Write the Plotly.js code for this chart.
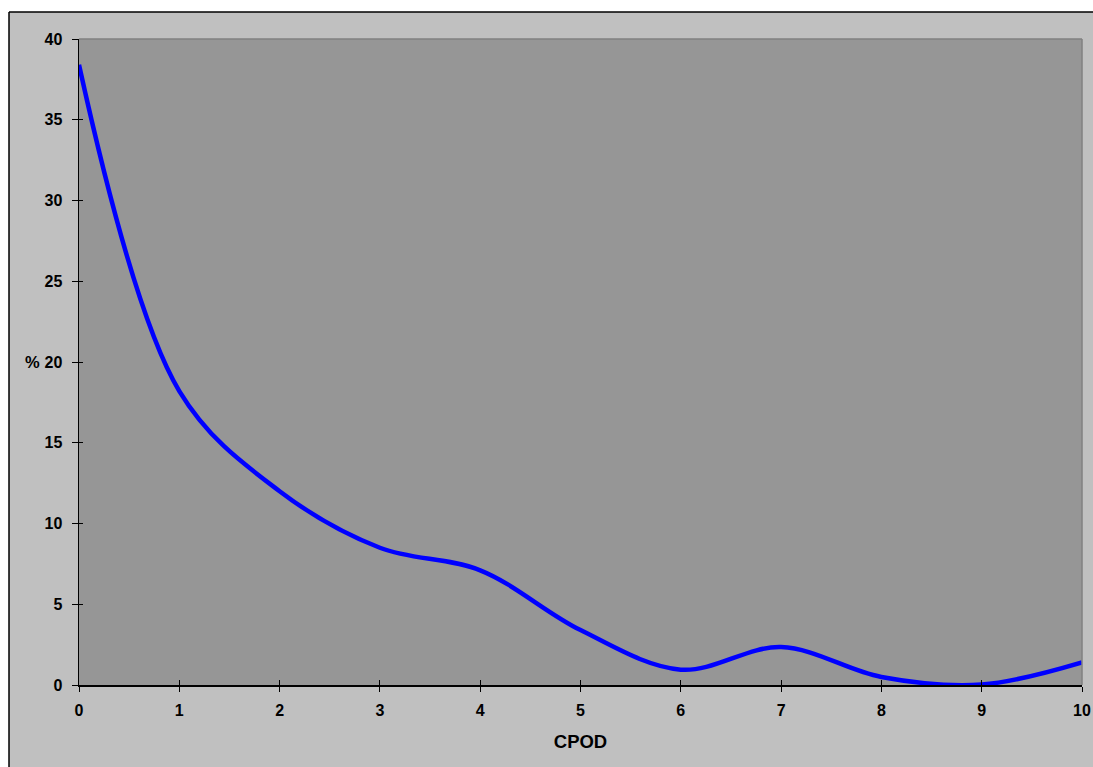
<!DOCTYPE html>
<html>
<head>
<meta charset="utf-8">
<script src="https://cdn.plot.ly/plotly-3.0.1.min.js"></script>
<style>html,body{margin:0;padding:0;background:#fff;}#chart{width:1093px;height:767px;}</style>
</head>
<body>
<div id="chart"></div>
<script>
const cpod = [0, 1, 2, 3, 4, 5, 6, 7, 8, 9, 10];
const percent = [38.4, 18.2, 12.0, 8.5, 7.1, 3.4, 0.95, 2.35, 0.5, 0.03, 1.4];
const xTicks = [0, 1, 2, 3, 4, 5, 6, 7, 8, 9, 10];
const yTicks = [0, 5, 10, 15, 20, 25, 30, 35, 40];

const W = 1093, H = 767;
const L = 79, R = 11, T = 39, B = 82;
const pw = W - L - R, ph = H - T - B;
const px = v => (v - L) / pw;
const py = v => 1 - (v - T) / ph;

const tickFont = {family: 'Liberation Sans, Arial, sans-serif', size: 16, color: '#000', weight: 'bold'};

const data = [
  {x: cpod, y: percent, type: 'scatter', mode: 'lines',
   line: {color: '#0000ff', width: 4.5, shape: 'spline', smoothing: 1},
   hoverinfo: 'x+y', showlegend: false},
  {x: [], y: [], xaxis: 'x2', yaxis: 'y2', type: 'scatter', mode: 'lines', showlegend: false, hoverinfo: 'skip'}
];

const layout = {
  width: W, height: H,
  margin: {l: L, r: R, t: T, b: B, pad: 0},
  paper_bgcolor: '#c0c0c0',
  plot_bgcolor: '#969696',
  showlegend: false,
  xaxis: {
    range: [0, 10], tickvals: xTicks, ticktext: xTicks.map(String),
    ticks: 'outside', ticklen: 5, tickwidth: 1, tickcolor: '#000',
    showline: true, linecolor: '#000', linewidth: 1.5,
    showgrid: false, zeroline: false, tickfont: tickFont,
    ticklabelstandoff: 5,
    title: {text: 'CPOD', font: {family: 'Liberation Sans, Arial, sans-serif', size: 18.5, color: '#000', weight: 'bold'}, standoff: 17}
  },
  yaxis: {
    range: [0, 40], tickvals: yTicks, ticktext: yTicks.map(String),
    ticks: 'outside', ticklen: 6, tickwidth: 1, tickcolor: '#000',
    showline: true, linecolor: '#000', linewidth: 1.5,
    showgrid: false, zeroline: false, tickfont: tickFont,
    ticklabelstandoff: 6
  },
  xaxis2: {overlaying: 'x', anchor: 'y2', range: [0, 10], tickvals: xTicks, ticks: 'inside', ticklen: 5,
    tickcolor: '#000', tickwidth: 1, showticklabels: false, showgrid: false, zeroline: false, showline: false},
  yaxis2: {overlaying: 'y', anchor: 'x2', range: [0, 40], tickvals: yTicks, ticks: 'inside', ticklen: 4,
    tickcolor: '#000', tickwidth: 1, showticklabels: false, showgrid: false, zeroline: false, showline: false},
  annotations: [
    {text: '%', xref: 'paper', yref: 'y', x: px(32), y: 20, xanchor: 'center', yanchor: 'middle',
     showarrow: false, font: {family: 'Liberation Sans, Arial, sans-serif', size: 16.5, color: '#000', weight: 'bold'}}
  ],
  shapes: [
    {type: 'rect', xref: 'paper', yref: 'paper', x0: px(-20), x1: px(9), y0: py(800), y1: py(-20), fillcolor: '#ffffff', line: {width: 0}},
    {type: 'rect', xref: 'paper', yref: 'paper', x0: px(-20), x1: px(1120), y0: py(12), y1: py(-20), fillcolor: '#ffffff', line: {width: 0}},
    {type: 'line', xref: 'paper', yref: 'paper', x0: px(9), x1: px(9), y0: py(800), y1: py(12), line: {color: '#000', width: 1.5}},
    {type: 'line', xref: 'paper', yref: 'paper', x0: px(9), x1: px(1120), y0: py(12), y1: py(12), line: {color: '#000', width: 1.5}},
    {type: 'line', xref: 'paper', yref: 'paper', x0: 0, x1: 1, y0: 1, y1: 1, line: {color: '#808080', width: 1.5}},
    {type: 'line', xref: 'paper', yref: 'paper', x0: 1, x1: 1, y0: 0, y1: 1, line: {color: '#808080', width: 1.5}}
  ]
};

Plotly.newPlot('chart', data, layout, {displayModeBar: false, staticPlot: true});
</script>
</body>
</html>
